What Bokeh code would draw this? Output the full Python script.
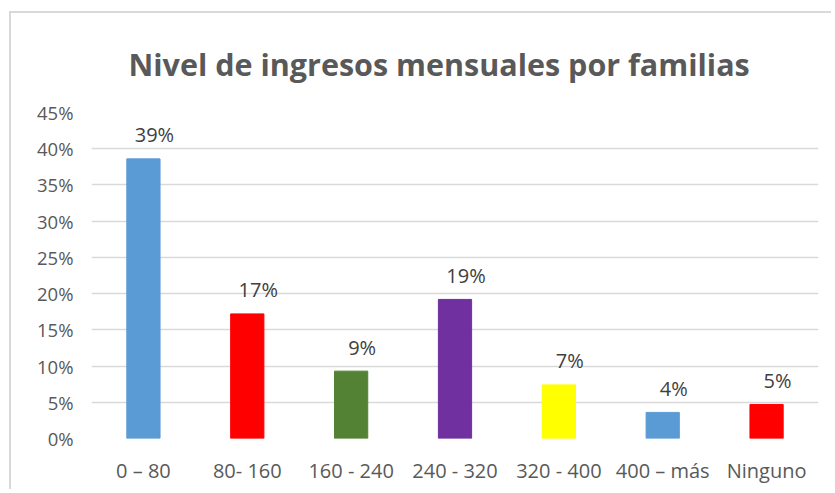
from bokeh.plotting import figure
from bokeh.models import ColumnDataSource, FixedTicker, NumeralTickFormatter, Range1d
from bokeh.core.properties import value
from bokeh.embed import file_html
from bokeh.resources import INLINE

title_text = "Nivel de ingresos mensuales por familias"
categories = ["0 – 80", "80- 160", "160 - 240", "240 - 320", "320 - 400", "400 – más", "Ninguno"]
shares = [0.386, 0.172, 0.093, 0.192, 0.074, 0.036, 0.047]
bar_colors = ["#5B9BD5", "#FF0000", "#548235", "#7030A0", "#FFFF00", "#5B9BD5", "#FF0000"]
y_ticks = [0.0, 0.05, 0.10, 0.15, 0.20, 0.25, 0.30, 0.35, 0.40, 0.45]

labels = [f"{round(v * 100)}%" for v in shares]
src = ColumnDataSource(dict(cat=categories, share=shares, color=bar_colors, label=labels))

p = figure(x_range=categories, y_range=Range1d(0, 0.45), width=822, height=478,
           output_backend="svg", toolbar_location=None,
           min_border_left=80, min_border_right=15, min_border_top=99, min_border_bottom=53)
p.styles = {"border-top": "2px solid #d9d9d9", "border-left": "2px solid #d9d9d9",
            "margin-left": "9px", "margin-top": "11px"}

p.vbar(x="cat", top="share", width=0.32, color="color", source=src)
p.text(x="cat", y="share", text="label", x_offset=11, y_offset=-24,
       text_align="center", text_baseline="middle", text_font=value("Open Sans"),
       text_font_size="20px", text_color="#404040", source=src)

p.title.text = title_text
p.title.align = "left"
p.title.offset = 37
p.title.standoff = 55
p.title.text_font = "Open Sans"
p.title.text_font_style = "bold"
p.title.text_font_size = "30.5px"
p.title.text_color = "#595959"

p.yaxis.ticker = FixedTicker(ticks=y_ticks)
p.yaxis.formatter = NumeralTickFormatter(format="0%")
for ax in (p.xaxis, p.yaxis):
    ax.axis_line_color = None
    ax.major_tick_line_color = None
    ax.minor_tick_line_color = None
    ax.major_label_text_font = "Open Sans"
    ax.major_label_text_color = "#595959"
p.yaxis.major_label_text_font_size = "18.5px"
p.xaxis.major_label_text_font_size = "20px"
p.yaxis.major_label_standoff = 12
p.xaxis.major_label_standoff = 12

p.xgrid.grid_line_color = None
p.ygrid.grid_line_color = "#d9d9d9"
p.ygrid.grid_line_width = 1.5
p.outline_line_color = None

open("out.html", "w").write(file_html(p, INLINE))
